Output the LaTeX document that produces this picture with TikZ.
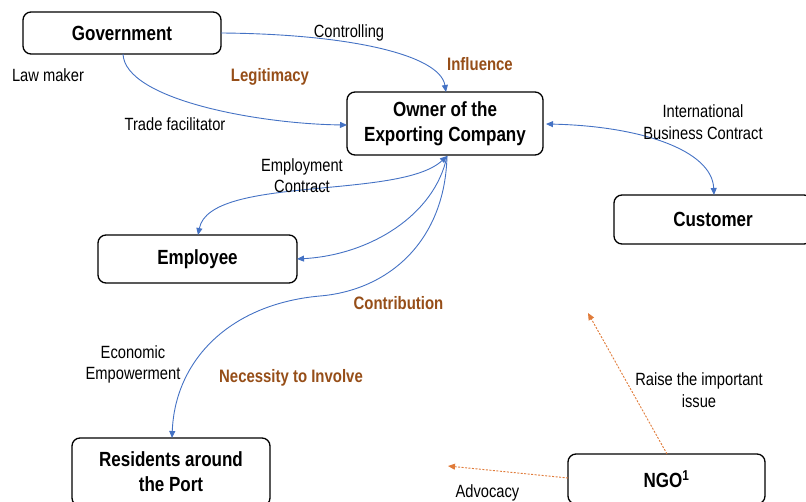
\documentclass[tikz,border=0pt]{standalone}
\usepackage{fontspec}
\setmainfont{Liberation Sans}[FakeStretch=0.83]
\usetikzlibrary{arrows.meta}
\definecolor{linkblue}{HTML}{4472C4}
\definecolor{labbrown}{RGB}{150,78,24}
\definecolor{ngoorange}{HTML}{E07B39}
\tikzset{
  actor/.style={draw=black, line width=1.3pt, rounded corners=8pt, fill=white,
    align=center, font=\fontsize{20.5}{25}\selectfont\bfseries, inner sep=0pt},
  rel/.style={draw=linkblue, line width=0.9pt},
  tip/.style={-{Triangle[length=7pt,width=6pt]}},
  dtip/.style={{Triangle[length=7pt,width=6pt]}-{Triangle[length=7pt,width=6pt]}},
  ngolink/.style={draw=ngoorange, line width=0.9pt, dash pattern=on 2pt off 1.5pt,
    -{Triangle[length=7pt,width=6pt]}},
  plain/.style={align=center, font=\fontsize{17.7}{21.5}\selectfont, inner sep=0pt},
  keyword/.style={align=center, text=labbrown, font=\fontsize{18}{20}\selectfont\bfseries, inner sep=0pt},
}
\begin{document}
\begin{tikzpicture}[x=1pt,y=-1pt]
\useasboundingbox (0,0) rectangle (806,502);
% boxes
\node[actor, minimum width=198pt, minimum height=42pt] (gov) at (122,33) {Government};
\node[actor, minimum width=196pt, minimum height=63pt] (own) at (445,123.5) {Owner of the\\Exporting Company};
\node[actor, minimum width=198pt, minimum height=49pt] (cus) at (713,219.5) {Customer};
\node[actor, minimum width=199pt, minimum height=48pt] (emp) at (197.5,259) {Employee};
\node[actor, minimum width=198pt, minimum height=68pt] (res) at (171,472) {Residents around\\the Port};
\node[actor, minimum width=197pt, minimum height=50pt] (ngo) at (666.5,479) {NGO\textsuperscript{1}};
% anchor points
\coordinate (ownB) at (447,156);
\coordinate (ownT) at (446,92);
\coordinate (ownL) at (347,125);
\coordinate (ownR) at (546,124);
\coordinate (govR) at (221,33);
\coordinate (govB) at (123,54);
\coordinate (cusT) at (714,195);
\coordinate (empT) at (198,235);
\coordinate (empR) at (297,259);
\coordinate (resT) at (172,438);
\coordinate (ngoT) at (667,454);
\coordinate (ngoL) at (568,478);
\coordinate (raiseEnd) at (588,313);
\coordinate (advEnd) at (448,466);
% connectors
\draw[rel, tip] (govR) .. controls (350,34) and (440,55) .. (ownT);
\draw[rel, tip] (govB) .. controls (125,100) and (260,124) .. (ownL);
\draw[rel, dtip] (ownR) .. controls (640,126) and (712,150) .. (cusT);
\draw[rel, dtip] (ownB) .. controls (400,200) and (210,175) .. (empT);
\draw[rel, tip] (ownB) .. controls (435,215) and (370,255) .. (empR);
\draw[rel, tip] (ownB) .. controls (445,240) and (390,290) .. (320,296)
   .. controls (230,304) and (175,360) .. (resT);
\draw[ngolink] (ngoT) -- (raiseEnd);
\draw[ngolink] (ngoL) -- (advEnd);
% labels
\node[plain] (lcontrol) at (349,33) {Controlling};
\node[plain] (llaw) at (48,75) {Law maker};
\node[keyword] (llegit) at (270,77) {Legitimacy};
\node[keyword] (linfl) at (480,64) {Influence};
\node[plain] (ltrade) at (175,124) {Trade facilitator};
\node[plain] (libc) at (703,122) {International\\Business Contract};
\node[plain] (lemp) at (302,175.5) {Employment\\Contract};
\node[keyword] (lcontrib) at (398.5,303) {Contribution};
\node[plain] (lecon) at (133,364.5) {Economic\\Empowerment};
\node[keyword] (lnec) at (291,378) {Necessity to Involve};
\node[plain] (lraise) at (699,390) {Raise the important\\issue};
\node[plain] (ladv) at (487.5,493) {Advocacy};
\end{tikzpicture}
\end{document}
